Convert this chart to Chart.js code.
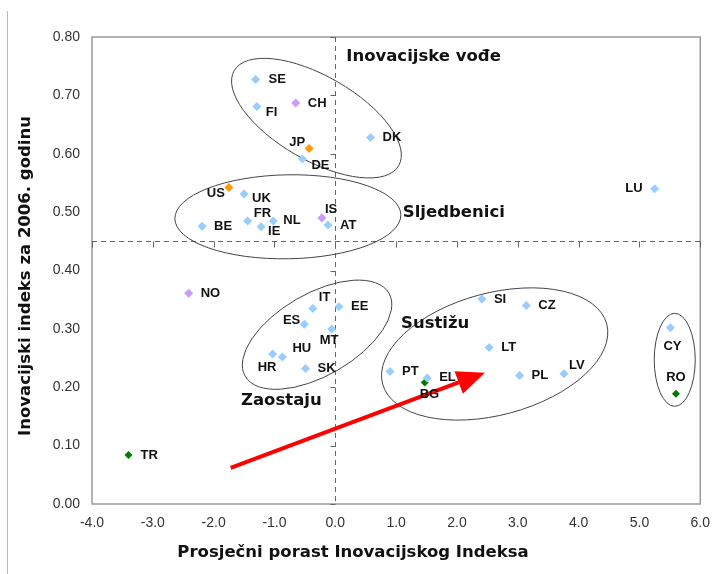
<!DOCTYPE html>
<html>
<head>
<meta charset="utf-8">
<script src="https://cdn.jsdelivr.net/npm/chart.js@4.4.0/dist/chart.umd.min.js"></script>
<style>
  html, body { margin: 0; padding: 0; background: #fff; }
  #wrap { width: 721px; height: 574px; position: relative; }
</style>
</head>
<body>
<div id="wrap"><canvas id="my-chart"></canvas></div>
<script>
// ********************** DATA ***************************

let blueNames = ['SE', 'FI', 'DE', 'DK', 'LU', 'UK', 'BE', 'FR', 'IE', 'NL', 'AT', 'IT', 'EE', 'ES', 'MT', 'HR', 'HU', 'SK', 'SI', 'CZ', 'LT', 'PT', 'EL', 'PL', 'LV', 'CY'];
let blueX = [-1.31, -1.29, -0.54, 0.58, 5.25, -1.50, -2.19, -1.44, -1.22, -1.02, -0.12, -0.37, 0.06, -0.51, -0.06, -1.03, -0.87, -0.49, 2.41, 3.14, 2.53, 0.90, 1.51, 3.03, 3.76, 5.51];
let blueY = [0.727, 0.681, 0.591, 0.628, 0.540, 0.531, 0.476, 0.485, 0.475, 0.485, 0.478, 0.335, 0.338, 0.308, 0.300, 0.257, 0.252, 0.232, 0.351, 0.340, 0.268, 0.227, 0.216, 0.220, 0.223, 0.302];

let purpleNames = ['CH', 'IS', 'NO'];
let purpleX = [-0.65, -0.22, -2.41];
let purpleY = [0.687, 0.490, 0.361];

let orangeNames = ['JP', 'US'];
let orangeX = [-0.43, -1.75];
let orangeY = [0.609, 0.542];

let greenNames = ['TR', 'BG', 'RO'];
let greenX = [-3.40, 1.47, 5.60];
let greenY = [0.084, 0.208, 0.189];

let xTicks = [-4, -3, -2, -1, 0, 1, 2, 3, 4, 5, 6];
let yTicks = [0, 0.1, 0.2, 0.3, 0.4, 0.5, 0.6, 0.7, 0.8];

let xTitle = 'Prosječni porast Inovacijskog Indeksa';
let yTitle = 'Inovacijski indeks za 2006. godinu';

let groupNames = ['Inovacijske vođe', 'Sljedbenici', 'Zaostaju', 'Sustižu'];
let groupX = [0.18, 1.11, -1.55, 1.08];
let groupY = [0.766, 0.499, 0.177, 0.309];

// ********************** LABEL PLACEMENT (px) ***************************
// [dx, dy, align]
let labelPos = {
  SE: [13, 0, 'left'], FI: [9, 6, 'left'], CH: [12, 0, 'left'], JP: [-4, -6, 'right'],
  DE: [9, 6, 'left'], DK: [12, 0, 'left'], LU: [-12, 0, 'right'], US: [-4, 6, 'right'],
  UK: [8, 4, 'left'], BE: [12, 0, 'left'], FR: [6, -7, 'left'], IE: [7, 5, 'left'],
  NL: [10, 0, 'left'], IS: [3, -9, 'left'], AT: [12, 0, 'left'], NO: [12, 0, 'left'],
  TR: [12, 0, 'left'], IT: [6, -11, 'left'], EE: [12, 0, 'left'], ES: [-4, -4, 'right'],
  MT: [-12, 12, 'left'], HR: [-15, 13, 'left'], HU: [10, -8, 'left'], SK: [12, 0, 'left'],
  SI: [12, 0, 'left'], CZ: [12, 0, 'left'], LT: [12, 0, 'left'], PT: [12, 0, 'left'],
  EL: [12, 0, 'left'], BG: [-5, 12, 'left'], PL: [12, 0, 'left'], LV: [5, -8, 'left'],
  CY: [2, 19, 'center'], RO: [0, -16, 'center']
};

// ellipses: centre in data units, radii in px, rotation in degrees
let ellipses = [
  { x: -0.31, y: 0.661, rx: 95, ry: 42, rot: 30 },
  { x: -0.78, y: 0.492, rx: 113, ry: 42, rot: -1 },
  { x: -0.30, y: 0.290, rx: 83, ry: 41, rot: -30 },
  { x: 2.62, y: 0.257, rx: 116, ry: 61, rot: -15 },
  { x: 5.58, y: 0.247, rx: 20.5, ry: 46.5, rot: 0 }
];

let arrowFrom = { x: -1.72, y: 0.062 };
let arrowTo = { x: 2.46, y: 0.225 };

// ********************** HELPERS ***************************

function makePoints(xs, ys, names) {
  let pts = [];
  for (let i = 0; i < xs.length; i++) {
    pts.push({ x: xs[i], y: ys[i], name: names[i] });
  }
  return pts;
}

function makeSet(label, xs, ys, names, color, r) {
  return {
    label: label,
    data: makePoints(xs, ys, names),
    backgroundColor: color,
    borderColor: color,
    borderWidth: 0,
    pointStyle: 'rectRot',
    pointRadius: r,
    pointHoverRadius: r
  };
}

// ********************** DECORATION PLUGIN ***************************

let decorPlugin = {
  id: 'decor',
  beforeDatasetsDraw(chart) {
    let ctx = chart.ctx;
    let xs = chart.scales.x;
    let ys = chart.scales.y;
    let a = chart.chartArea;

    ctx.save();
    // chart area frame on the left
    ctx.strokeStyle = '#bbb';
    ctx.lineWidth = 1;
    ctx.beginPath();
    ctx.moveTo(7.5, 11);
    ctx.lineTo(7.5, 574);
    ctx.stroke();

    // plot border
    ctx.strokeStyle = '#9a9a9a';
    ctx.lineWidth = 1.5;
    ctx.strokeRect(a.left, a.top, a.right - a.left, a.bottom - a.top);

    // dashed cross lines
    let x0 = Math.round(xs.getPixelForValue(0)) + 0.5;
    let y0 = Math.round(ys.getPixelForValue(0.45)) + 0.5;
    ctx.strokeStyle = '#666';
    ctx.lineWidth = 1;
    ctx.setLineDash([5, 4]);
    ctx.beginPath();
    ctx.moveTo(x0, a.top);
    ctx.lineTo(x0, a.bottom);
    ctx.moveTo(a.left, y0);
    ctx.lineTo(a.right, y0);
    ctx.stroke();
    ctx.setLineDash([]);

    // tick marks on cross lines
    ctx.beginPath();
    for (let i = 0; i < yTicks.length; i++) {
      let py = Math.round(ys.getPixelForValue(yTicks[i])) + 0.5;
      ctx.moveTo(x0 - 5, py);
      ctx.lineTo(x0, py);
    }
    for (let i = 0; i < xTicks.length; i++) {
      let px = Math.round(xs.getPixelForValue(xTicks[i])) + 0.5;
      ctx.moveTo(px, y0);
      ctx.lineTo(px, y0 + 6);
    }
    ctx.stroke();

    // ellipses
    ctx.strokeStyle = '#444';
    ctx.lineWidth = 1;
    for (let i = 0; i < ellipses.length; i++) {
      let e = ellipses[i];
      ctx.beginPath();
      ctx.ellipse(xs.getPixelForValue(e.x), ys.getPixelForValue(e.y), e.rx, e.ry, e.rot * Math.PI / 180, 0, Math.PI * 2);
      ctx.stroke();
    }

    // group labels
    ctx.fillStyle = '#111';
    ctx.font = 'bold 16.5px "DejaVu Sans"';
    ctx.textAlign = 'left';
    ctx.textBaseline = 'middle';
    for (let i = 0; i < groupNames.length; i++) {
      ctx.fillText(groupNames[i], xs.getPixelForValue(groupX[i]), ys.getPixelForValue(groupY[i]));
    }

    // axis titles
    ctx.textAlign = 'center';
    ctx.fillText(xTitle, 353, 553);
    ctx.save();
    ctx.translate(26, 276);
    ctx.rotate(-Math.PI / 2);
    ctx.fillText(yTitle, 0, 0);
    ctx.restore();

    // red arrow
    let sx = xs.getPixelForValue(arrowFrom.x);
    let sy = ys.getPixelForValue(arrowFrom.y);
    let tx = xs.getPixelForValue(arrowTo.x);
    let ty = ys.getPixelForValue(arrowTo.y);
    let ang = Math.atan2(ty - sy, tx - sx);
    let headLen = 28;
    let headW = 12;
    let bx = tx - headLen * Math.cos(ang);
    let by = ty - headLen * Math.sin(ang);
    ctx.strokeStyle = '#ff0000';
    ctx.fillStyle = '#ff0000';
    ctx.lineWidth = 4;
    ctx.beginPath();
    ctx.moveTo(sx, sy);
    ctx.lineTo(bx, by);
    ctx.stroke();
    ctx.beginPath();
    ctx.moveTo(tx, ty);
    ctx.lineTo(bx + headW * Math.sin(ang), by - headW * Math.cos(ang));
    ctx.lineTo(bx - headW * Math.sin(ang), by + headW * Math.cos(ang));
    ctx.closePath();
    ctx.fill();
    ctx.restore();
  },
  afterDatasetsDraw(chart) {
    let ctx = chart.ctx;
    ctx.save();
    ctx.fillStyle = '#111';
    ctx.font = 'bold 13px "Liberation Sans"';
    ctx.textBaseline = 'middle';
    chart.data.datasets.forEach(function (ds, di) {
      let meta = chart.getDatasetMeta(di);
      meta.data.forEach(function (el, i) {
        let name = ds.data[i].name;
        let p = labelPos[name] || [10, 0, 'left'];
        ctx.textAlign = p[2];
        ctx.fillText(name, el.x + p[0], el.y + p[1]);
      });
    });
    ctx.restore();
  }
};

// ********************** CHART ***************************

let ctx = document.getElementById('my-chart').getContext('2d');

new Chart(ctx, {
  type: 'scatter',
  data: {
    datasets: [
      makeSet('EU', blueX, blueY, blueNames, '#99ccff', 4.5),
      makeSet('Ostale', purpleX, purpleY, purpleNames, '#cc99ff', 4.5),
      makeSet('US/JP', orangeX, orangeY, orangeNames, '#ff9900', 4.5),
      makeSet('Kandidati', greenX, greenY, greenNames, '#007a00', 4)
    ]
  },
  options: {
    responsive: true,
    maintainAspectRatio: false,
    animation: false,
    layout: { padding: { top: 37, right: 17, left: 0, bottom: 0 } },
    plugins: {
      legend: { display: false },
      tooltip: { enabled: false }
    },
    scales: {
      x: {
        type: 'linear',
        min: -4,
        max: 6,
        afterBuildTicks: function (scale) {
          scale.ticks = xTicks.map(function (v) { return { value: v }; });
        },
        afterFit: function (scale) { scale.height = 70; },
        grid: { display: false, drawTicks: false },
        border: { display: false },
        ticks: {
          padding: 11,
          color: '#333',
          font: { family: 'Liberation Sans', size: 14 },
          callback: function (v) { return v.toFixed(1); }
        },
        title: { display: false }
      },
      y: {
        type: 'linear',
        min: 0,
        max: 0.8,
        afterBuildTicks: function (scale) {
          scale.ticks = yTicks.map(function (v) { return { value: v }; });
        },
        afterFit: function (scale) { scale.width = 92; },
        grid: { display: false, drawTicks: false },
        border: { display: false },
        ticks: {
          padding: 12,
          color: '#333',
          font: { family: 'Liberation Sans', size: 14 },
          callback: function (v) { return v.toFixed(2); }
        },
        title: { display: false }
      }
    }
  },
  plugins: [decorPlugin]
});
</script>
</body>
</html>
